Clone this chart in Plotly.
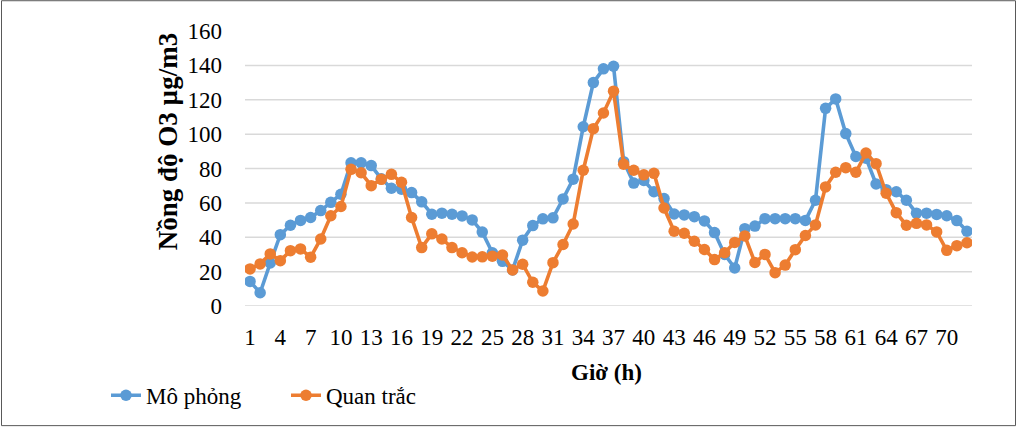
import plotly.graph_objects as go

hours = list(range(1, 73))
mo_phong = [14.3, 7.7, 25, 41.5, 47, 49.8, 51.5, 55.5, 60.3, 65,
            83.3, 83.3, 81.7, 74, 68.5, 68, 66, 60.6, 53.4, 54,
            53.4, 52.4, 50.1, 43, 31, 26, 21, 38.3, 46.8, 50.7,
            51.3, 62.3, 73.8, 104.3, 130, 138, 139.5, 84, 71.5, 73,
            66.5, 62.5, 53.5, 53, 52, 49.5, 42.7, 30, 22.1, 45,
            46.5, 50.8, 50.8, 50.8, 50.8, 49.8, 61.5, 115, 120.5, 100.3,
            87, 86, 71, 67.7, 66.5, 61.5, 54, 54, 53.3, 52.5,
            49.7, 43.5]
quan_trac = [21.6, 24.5, 30.3, 26.4, 32.2, 33.2, 28.4, 39, 52.5, 57.9,
             79.5, 77.5, 70, 73.7, 76.6, 72, 51.5, 34, 42, 39,
             34, 31, 28.5, 28.6, 29, 29.7, 21, 24.3, 13.8, 8.7,
             25.2, 35.8, 47.7, 79, 103.2, 112.3, 125, 82.5, 79, 76.3,
             77.2, 57, 43.5, 42.3, 37.7, 32.9, 27, 31, 37, 40.8,
             25.3, 30, 19.4, 23.8, 32.8, 41, 47.2, 69.3, 77.8, 80.5,
             77.8, 89, 82.8, 65.6, 54.3, 47, 48.1, 47.2, 43.1, 32.4,
             35.1, 36.8]
y_ticks = [0, 20, 40, 60, 80, 100, 120, 140, 160]
x_ticks = list(range(1, 71, 3))

W, H = 1019, 429
ml, mr, mt, mb = 245, 47, 31, 121
pw = W - ml - mr
ph = H - mt - mb

FONT = "Liberation Serif"
BLUE = "#5B9BD5"
ORANGE = "#ED7D31"
GRID = "#D9D9D9"

fig = go.Figure()
fig.add_trace(go.Scatter(x=hours, y=mo_phong, name="Mô phỏng", mode="lines+markers",
                         line=dict(color=BLUE, width=3.6),
                         marker=dict(size=11.5, color=BLUE)))
fig.add_trace(go.Scatter(x=hours, y=quan_trac, name="Quan trắc", mode="lines+markers",
                         line=dict(color=ORANGE, width=3.6),
                         marker=dict(size=11.5, color=ORANGE)))

shapes = []
for v in y_ticks[:-1]:
    shapes.append(dict(type="line", xref="paper", yref="y", x0=0, x1=1, y0=v, y1=v,
                       line=dict(color=GRID, width=1.5), layer="below"))
# outer chart border
shapes.append(dict(type="rect", xref="paper", yref="paper",
                   x0=(1.5 - ml) / pw, x1=(1015.5 - ml) / pw,
                   y0=-(H - 0.5 - mt - ph) / ph, y1=1 + (mt - 0.5) / ph,
                   line=dict(color="#595959", width=1)))

fig.update_layout(
    width=W, height=H,
    margin=dict(l=ml, r=mr, t=mt, b=mb),
    paper_bgcolor="white", plot_bgcolor="white",
    font=dict(family=FONT, size=23, color="black"),
    showlegend=True,
    legend=dict(orientation="h", x=(106 - ml) / pw, xanchor="left",
                y=-(398 - mt - ph) / ph, yanchor="middle",
                font=dict(family=FONT, size=23), entrywidth=135, entrywidthmode="pixels",
                bgcolor="rgba(0,0,0,0)"),
    shapes=shapes,
    xaxis=dict(range=[0.5, 72.5], tickmode="array", tickvals=x_ticks,
               ticktext=[str(t) for t in x_ticks], showgrid=False, zeroline=False,
               showline=False, ticks="", ticklabelstandoff=15,
               tickfont=dict(family=FONT, size=23)),
    yaxis=dict(range=[0, 160], tickmode="array", tickvals=y_ticks,
               showgrid=False, zeroline=False, showline=False, ticks="",
               ticklabelstandoff=22, tickfont=dict(family=FONT, size=23)),
    annotations=[
        dict(text="<b>Nồng độ O3 µg/m3</b>", xref="paper", yref="paper",
             x=(168 - ml) / pw, y=(H - mb - 143) / ph, textangle=-90,
             showarrow=False, xanchor="center", yanchor="middle",
             font=dict(family=FONT, size=27)),
        dict(text="<b>Giờ (h)</b>", xref="paper", yref="paper",
             x=(606 - ml) / pw, y=-(375 - mt - ph) / ph,
             showarrow=False, xanchor="center", yanchor="middle",
             font=dict(family=FONT, size=23)),
    ],
)

fig.write_html("out.html")
